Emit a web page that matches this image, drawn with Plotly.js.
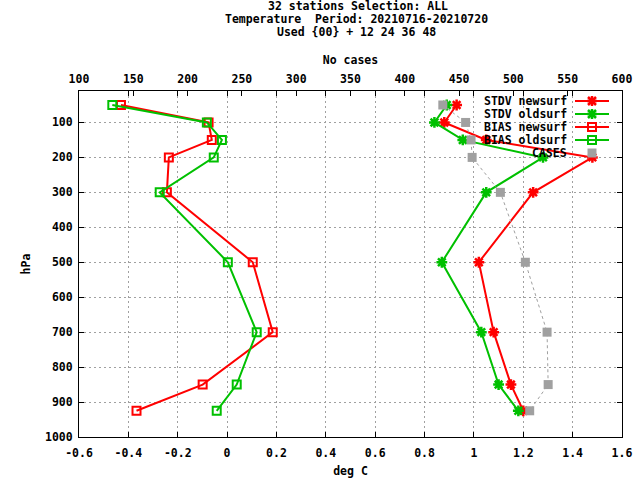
<!DOCTYPE html>
<html>
<head>
<meta charset="utf-8">
<script src="https://cdn.plot.ly/plotly-3.0.1.min.js"></script>
<style>html,body{margin:0;padding:0;background:#fff;} #chart{width:640px;height:480px;}</style>
</head>
<body>
<div id="chart"></div>
<script>
// ---- data ----
var levels = [50, 100, 150, 200, 300, 500, 700, 850, 925];
var stdvNewsurf = [0.93, 0.88, 1.05, 1.48, 1.24, 1.02, 1.08, 1.15, 1.20];
var stdvOldsurf = [0.89, 0.84, 0.955, 1.28, 1.05, 0.87, 1.03, 1.10, 1.18];
var biasNewsurf = [-0.43, -0.075, -0.062, -0.236, -0.244, 0.104, 0.185, -0.099, -0.367];
var biasOldsurf = [-0.465, -0.082, -0.021, -0.054, -0.273, 0.003, 0.12, 0.039, -0.042];
var cases = [435, 456, 461, 462, 488, 511, 531, 532, 515];

var seriesNames = ['STDV newsurf', 'STDV oldsurf', 'BIAS newsurf', 'BIAS oldsurf', 'CASES'];
var xTickVals = [-0.6, -0.4, -0.2, 0, 0.2, 0.4, 0.6, 0.8, 1, 1.2, 1.4, 1.6];
var xTickText = ['-0.6', '-0.4', '-0.2', '0', '0.2', '0.4', '0.6', '0.8', '1', '1.2', '1.4', '1.6'];
var yTickVals = [100, 200, 300, 400, 500, 600, 700, 800, 900, 1000];
var titleLines = ['32 stations Selection: ALL', 'Temperature\u00a0 Period: 20210716-20210720', 'Used {00} + 12 24 36 48'];

// ---- styles ----
var RED = '#ff0000', GREEN = '#00c000', GRAY = '#a0a0a0';
var FONT = {family: 'DejaVu Sans Mono, monospace', size: 11.5, color: '#000', weight: 'bold'};

var traces = [
  {x: cases, y: levels, xaxis: 'x2', yaxis: 'y', name: seriesNames[4], mode: 'lines+markers',
   line: {color: GRAY, width: 1, dash: 'dot'}, marker: {symbol: 'square', size: 9, color: GRAY}},
  {x: stdvNewsurf, y: levels, name: seriesNames[0], mode: 'lines+markers',
   line: {color: RED, width: 2}, marker: {symbol: 'asterisk-open', size: 9, color: RED, line: {color: RED, width: 2.5}}},
  {x: stdvOldsurf, y: levels, name: seriesNames[1], mode: 'lines+markers',
   line: {color: GREEN, width: 2}, marker: {symbol: 'asterisk-open', size: 9, color: GREEN, line: {color: GREEN, width: 2.5}}},
  {x: biasNewsurf, y: levels, name: seriesNames[2], mode: 'lines+markers',
   line: {color: RED, width: 2}, marker: {symbol: 'square-open', size: 8, color: RED, line: {color: RED, width: 2}}},
  {x: biasOldsurf, y: levels, name: seriesNames[3], mode: 'lines+markers',
   line: {color: GREEN, width: 2}, marker: {symbol: 'square-open', size: 8, color: GREEN, line: {color: GREEN, width: 2}}}
];

// ---- custom gnuplot-style key (text left of sample) ----
var L = 79, R = 18, T = 91, B = 43, W = 640, H = 480;
var pw = W - L - R, ph = H - T - B;
function px2x(p) { return (p - L) / pw; }
function px2y(p) { return 1 - (p - T) / ph; }
var keyColors = [RED, GREEN, RED, GREEN, GRAY];
var keyMarker = ['ast', 'ast', 'sqo', 'sqo', 'sqf'];
var annotations = [], shapes = [];
for (var i = 0; i < seriesNames.length; i++) {
  var yy = px2y(101 + 13 * i);
  annotations.push({text: seriesNames[i], xref: 'paper', yref: 'paper', x: px2x(569), y: yy,
    xanchor: 'right', yanchor: 'middle', showarrow: false, font: FONT});
  if (keyMarker[i] !== 'sqf') {
    shapes.push({type: 'line', xref: 'paper', yref: 'paper', x0: px2x(575), x1: px2x(609), y0: yy, y1: yy,
      line: {color: keyColors[i], width: 2}});
  }
  var mk = {xref: 'paper', yref: 'paper', xsizemode: 'pixel', ysizemode: 'pixel', xanchor: px2x(592), yanchor: yy};
  if (keyMarker[i] === 'ast') {
    mk.type = 'path';
    mk.path = 'M-5,0L5,0M0,-5L0,5M-4,-4L4,4M-4,4L4,-4';
    mk.line = {color: keyColors[i], width: 2.5};
  } else if (keyMarker[i] === 'sqo') {
    mk.type = 'rect'; mk.x0 = -4; mk.x1 = 4; mk.y0 = -4; mk.y1 = 4;
    mk.line = {color: keyColors[i], width: 2}; mk.fillcolor = 'rgba(0,0,0,0)';
  } else {
    mk.type = 'rect'; mk.x0 = -4.5; mk.x1 = 4.5; mk.y0 = -4.5; mk.y1 = 4.5;
    mk.line = {width: 0}; mk.fillcolor = GRAY;
  }
  shapes.push(mk);
}
// title lines 2 and 3 (gnuplot line spacing of 13px)
for (var j = 1; j < titleLines.length; j++) {
  annotations.push({text: titleLines[j], xref: 'paper', yref: 'paper', x: px2x(356), y: px2y(6 + 13 * j),
    xanchor: 'center', yanchor: 'middle', showarrow: false, font: FONT});
}

var axisCommon = {
  showline: true, linecolor: '#000', linewidth: 1, ticks: 'inside', ticklen: 5, tickcolor: '#000',
  tickfont: FONT, zeroline: false
};

var layout = {
  width: W, height: H,
  margin: {l: L, r: R, t: T, b: B, pad: 0},
  paper_bgcolor: '#fff', plot_bgcolor: '#fff',
  showlegend: false,
  font: FONT,
  title: {text: titleLines[0], font: FONT, xref: 'container', yref: 'container',
          x: 358 / W, xanchor: 'center', y: 1 - 6 / H, yanchor: 'middle', pad: {t: 0, b: 0}},
  xaxis: Object.assign({}, axisCommon, {
    range: [-0.6, 1.6], tickmode: 'array', tickvals: xTickVals, ticktext: xTickText,
    mirror: 'ticks', showgrid: true, gridcolor: GRAY, gridwidth: 1, griddash: '2px,3px',
    title: {text: 'deg C', font: FONT, standoff: 8}, automargin: false, ticklabelstandoff: 5
  }),
  xaxis2: Object.assign({}, axisCommon, {
    overlaying: 'x', side: 'top', range: [100, 600], dtick: 50, tick0: 100, showgrid: false,
    title: {text: 'No cases', font: FONT, standoff: 5}, automargin: false, ticklabelstandoff: 2
  }),
  yaxis: Object.assign({}, axisCommon, {
    range: [1000, 10], tickmode: 'array', tickvals: yTickVals,
    mirror: 'ticks', showgrid: true, gridcolor: GRAY, gridwidth: 1, griddash: '2px,3px',
    title: {text: 'hPa', font: FONT, standoff: 11}, automargin: false, ticklabelstandoff: 3
  }),
  annotations: annotations,
  shapes: shapes
};

Plotly.newPlot('chart', traces, layout, {staticPlot: true, displayModeBar: false});
</script>
</body>
</html>
